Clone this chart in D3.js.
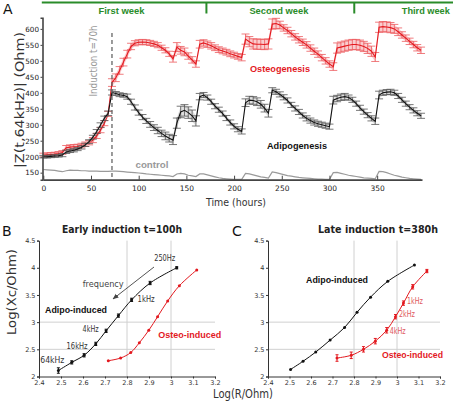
<!DOCTYPE html>
<html><head><meta charset="utf-8">
<script src="https://cdn.jsdelivr.net/npm/d3@7/dist/d3.min.js"></script>
<style>body{margin:0;background:#fff} svg{display:block;font-family:"DejaVu Sans",sans-serif}</style>
</head><body><svg id="c" width="453" height="402"></svg>
<script>
// ---------- Panel A data ----------
const hours = [0,4,8,12,16,20,24,28,32,36,40,44,48,52,56,60,64,68,72,76,80,84,88,92,96,100,104,108,112,116,120,124,128,132,136,140,144,148,152,156,160,164,168,172,176,180,184,188,192,196,200,204,208,212,216,220,224,228,232,236,240,244,248,252,256,260,264,268,272,276,280,284,288,292,296,300,304,308,312,316,320,324,328,332,336,340,344,348,352,356,360,364,368,372,376,380,384,388,392,396];
const osteo = [205,206,207,208,210,213,228,230,231,232,
  235,239,244,252,265,283,305,334,432,447,
  470,496,521,545,555,558,559,558,556,553,
  549,541,533,522,506,543,533,528,515,503,
  490,552,556,552,547,541,535,531,527,522,
  518,514,510,568,560,553,552,552,551,553,
  615,617,612,603,595,585,575,566,558,550,
  540,530,521,510,500,490,482,540,543,546,
  549,551,551,549,545,539,530,512,605,607,
  606,604,600,591,581,571,561,551,541,533];
const osteoErr = [6,6,6,6,6,6,7,7,7,7,
  7,7,7,8,8,8,8,8,12,12,
  12,12,12,10,8,8,8,8,8,8,
  8,8,8,8,10,14,12,12,10,10,
  10,12,10,10,10,9,9,9,9,9,
  9,9,10,16,16,16,16,16,16,16,
  16,16,12,10,10,10,10,10,10,10,
  10,10,10,10,10,10,12,16,16,16,
  16,16,16,16,16,16,16,14,16,16,
  16,16,14,12,10,10,10,10,10,10];
const adipo = [200,200,201,202,203,205,215,218,220,224,
  229,237,247,261,279,299,320,336,401,398,
  394,392,388,372,354,338,324,312,301,291,
  282,273,265,258,252,305,340,345,338,328,
  312,388,393,385,372,358,347,335,321,307,
  295,286,279,369,377,376,372,364,352,336,
  408,403,395,386,376,362,351,340,329,320,
  313,307,303,300,297,294,377,382,386,388,
  385,378,366,353,341,330,320,311,393,400,
  402,403,400,390,378,366,355,345,336,328];
const adipoErr = [4,4,4,4,4,5,5,5,5,5,
  5,5,6,6,6,7,7,7,8,6,
  6,6,8,8,8,8,8,8,9,9,
  10,10,12,12,14,16,18,18,18,18,
  16,10,8,8,8,8,8,8,8,8,
  8,8,8,12,12,12,12,12,12,12,
  8,8,8,8,8,8,8,8,8,8,
  8,8,8,8,8,8,12,10,10,10,
  8,8,8,8,8,8,8,10,12,8,
  8,8,8,8,8,8,8,8,8,8];
const control = [160,159,158,157,155,153,156,158,157,157,
  156,156,155,155,155,154,154,154,155,155,
  154,153,152,151,150,149,148,146,145,144,
  143,142,141,140,138,146,148,146,142,140,
  138,146,146,143,140,137,134,132,131,130,
  129,129,129,148,146,143,140,137,135,133,
  152,150,147,144,141,139,137,135,134,133,
  132,131,130,130,129,129,150,151,148,145,
  142,140,138,136,134,133,132,131,154,153,
  150,146,142,139,136,134,132,131,130,129];
const yTicksA = [150,200,250,300,350,400,450,500,550,600];
const xTicksA = [0,50,100,150,200,250,300,350];
const inductionHour = 72;
const weekBounds = [171, 326];
const weekLabels = ["First week","Second week","Third week"];
const weekLabelHours = [82, 247, 401];

// ---------- Panels B / C data ----------
const bAdipoR = [2.488,2.549,2.605,2.658,2.705,2.761,2.821,2.905,3.026];
const bAdipoX = [2.11,2.26,2.39,2.60,2.84,3.12,3.41,3.72,4.00];
const bAdipoErr = [0.05,0.03,0.03,0.03,0.03,0.03,0.03,0.03,0.02];
const bOsteoR = [2.715,2.771,2.817,2.856,2.899,2.939,2.985,3.038,3.117];
const bOsteoX = [2.29,2.34,2.44,2.62,2.85,3.10,3.39,3.67,3.96];
const cAdipoR = [2.505,2.563,2.622,2.689,2.756,2.814,2.877,2.957,3.081];
const cAdipoX = [2.13,2.28,2.45,2.67,2.90,3.18,3.46,3.75,4.05];
const cOsteoR = [2.721,2.787,2.844,2.899,2.952,2.993,3.030,3.073,3.139];
const cOsteoX = [2.34,2.39,2.50,2.65,2.85,3.10,3.35,3.65,3.94];
const cOsteoErr = [0.06,0.06,0.05,0.05,0.05,0.04,0.04,0.04,0.03];
const freqTicksX = [2.4,2.5,2.6,2.7,2.8,2.9,3,3.1,3.2];
const freqTicksY = [2,2.5,3,3.5,4,4.5];
const gridX = [2.8,3.0];
const gridY = [2.5,3.0];

const RED = "#e3191f", GREEN = "#2a8c2a";
const BOLDF = '"Liberation Sans", Arial, sans-serif';
const svg = d3.select('#c');

// ================= Panel A =================
const xA = d3.scaleLinear().domain([0,397]).range([43.3,422]);
const yA = d3.scaleLinear().domain([128,635]).range([179.7,17.7]);
const gA = svg.append('g');

function drawSeries(vals, errs, lineColor, bandColor, barColor, capW){
  const pts = hours.map((h,i)=>({h, v:vals[i], e:errs[i]}));
  gA.append('path').datum(pts)
    .attr('d', d3.area().x(d=>xA(d.h)).y0(d=>yA(d.v-d.e)).y1(d=>yA(d.v+d.e)))
    .attr('fill', bandColor).attr('opacity',0.55);
  const eb = gA.append('g').attr('stroke', barColor).attr('stroke-width',0.8);
  pts.forEach(d=>{
    const x = xA(d.h), y0=yA(d.v-d.e), y1=yA(d.v+d.e);
    eb.append('line').attr('x1',x).attr('x2',x).attr('y1',y0).attr('y2',y1);
    eb.append('line').attr('x1',x-capW/2).attr('x2',x+capW/2).attr('y1',y0).attr('y2',y0);
    eb.append('line').attr('x1',x-capW/2).attr('x2',x+capW/2).attr('y1',y1).attr('y2',y1);
  });
  gA.append('path').datum(pts)
    .attr('d', d3.line().x(d=>xA(d.h)).y(d=>yA(d.v)))
    .attr('fill','none').attr('stroke',lineColor).attr('stroke-width',1.1);
}
// control
(function(){
  const pts = hours.map((h,i)=>({h, v:control[i]}));
  gA.append('path').datum(pts)
    .attr('d', d3.line().x(d=>xA(d.h)).y(d=>yA(d.v)))
    .attr('fill','none').attr('stroke','#9a9a9a').attr('stroke-width',1.2);
})();
drawSeries(osteo, osteoErr, RED, "#f5a3a6", "#ec5a5e", 8);
drawSeries(adipo, adipoErr, "#111", "#c4c4c4", "#555", 8);

// induction line
gA.append('line').attr('x1',xA(inductionHour)).attr('x2',xA(inductionHour))
  .attr('y1',33).attr('y2',yA(128)).attr('stroke','#666').attr('stroke-width',1.3)
  .attr('stroke-dasharray','4,3');
gA.append('text').attr('transform',`translate(${xA(inductionHour)-15},61) rotate(-90)`)
  .attr('text-anchor','middle').attr('font-size',10).attr('fill','#999')
  .attr('textLength',71).attr('lengthAdjust','spacingAndGlyphs').text('Induction t=70h');

// axes A
const axL = gA.append('g').attr('transform',`translate(${xA(0)-0.8},0)`)
  .call(d3.axisLeft(yA).tickValues(yTicksA).tickSize(2).tickPadding(1.5));
axL.select('.domain').attr('stroke','#444').attr('stroke-width',1.6);
axL.selectAll('.tick line').attr('stroke','#444');
axL.selectAll('.tick text').attr('font-size',7.2).attr('fill','#222').attr('font-family','DejaVu Sans');
const axB = gA.append('g').attr('transform',`translate(0,${yA(128)})`)
  .call(d3.axisBottom(xA).tickValues(xTicksA).tickSize(-4).tickPadding(5).tickSizeOuter(0));
axB.select('.domain').attr('stroke','#444').attr('stroke-width',1.8);
axB.selectAll('.tick line').attr('stroke','#444');
axB.selectAll('.tick text').attr('font-size',7.5).attr('fill','#222').attr('font-family','DejaVu Sans').attr('dy','0.9em');

gA.append('text').attr('x',236).attr('y',205.5).attr('text-anchor','middle')
  .attr('font-size',10.5).attr('fill','#333').attr('textLength',60).attr('lengthAdjust','spacingAndGlyphs').text('Time (hours)');
gA.append('text').attr('transform','translate(24,100) rotate(-90)').attr('text-anchor','middle')
  .attr('font-size',12.5).attr('fill','#333').attr('textLength',136).attr('lengthAdjust','spacingAndGlyphs').text('|Z(t,64kHz)| (Ohm)');

// series labels
function boldLbl(g,x,y,t,fill,len,anchor){
  return g.append('text').attr('x',x).attr('y',y).attr('text-anchor',anchor||'start').attr('font-weight','bold')
    .attr('font-family',BOLDF).attr('font-size',9.2).attr('fill',fill)
    .attr('textLength',len).attr('lengthAdjust','spacingAndGlyphs').text(t);
}
boldLbl(gA,280,72,'Osteogenesis',RED,60,'middle');
boldLbl(gA,297,148.5,'Adipogenesis','#111',60,'middle');
boldLbl(gA,152,168,'control','#999',33,'middle');

// week bar
gA.append('line').attr('x1',xA(0)-1.5).attr('x2',453).attr('y1',2.5).attr('y2',2.5).attr('stroke',GREEN).attr('stroke-width',2.2);
weekBounds.forEach(h=>{
  gA.append('line').attr('x1',xA(h)).attr('x2',xA(h)).attr('y1',2).attr('y2',13.5).attr('stroke',GREEN).attr('stroke-width',2);
});
const wLens=[46,59,48];
weekLabels.forEach((t,i)=>{
  const last = i===weekLabels.length-1;
  boldLbl(gA, last ? xA(weekLabelHours[i])+wLens[i]/2 : xA(weekLabelHours[i]), 13.5, t, GREEN, wLens[i], last?'end':'middle');
});
svg.append('text').attr('x',3).attr('y',13.5).attr('font-size',14).attr('fill','#111').text('A');

// ================= Panels B & C =================
function panel(x0,x1,title,titleX,letter,letterX){
  const x = d3.scaleLinear().domain([2.4,3.2]).range([x0,x1]);
  const y = d3.scaleLinear().domain([2,4.5]).range([376.5,240.6]);
  const g = svg.append('g');
  gridX.forEach(v=>g.append('line').attr('x1',x(v)).attr('x2',x(v)).attr('y1',y(4.5)).attr('y2',y(2)).attr('stroke','#d0d0d0').attr('stroke-width',1));
  gridY.forEach(v=>g.append('line').attr('x1',x(2.4)).attr('x2',x(3.2)).attr('y1',y(v)).attr('y2',y(v)).attr('stroke','#d0d0d0').attr('stroke-width',1));
  const ay = g.append('g').attr('transform',`translate(${x(2.4)},0)`).call(d3.axisLeft(y).tickValues(freqTicksY).tickFormat(d3.format('')).tickSize(2).tickPadding(1.5));
  const ax = g.append('g').attr('transform',`translate(0,${y(2)})`).call(d3.axisBottom(x).tickValues(freqTicksX).tickFormat(d3.format('')).tickSize(2).tickPadding(1.5));
  [ay,ax].forEach(a=>{
    a.select('.domain').attr('stroke','#333').attr('stroke-width',1);
    a.selectAll('.tick line').attr('stroke','#333');
    a.selectAll('.tick text').attr('font-size',6.5).attr('fill','#333').attr('font-family','DejaVu Sans');
  });
  g.append('text').attr('x',titleX).attr('y',233).attr('text-anchor','middle').attr('font-weight','bold')
    .attr('font-size',10).attr('fill','#222').attr('textLength',120).attr('lengthAdjust','spacingAndGlyphs').text(title);
  svg.append('text').attr('x',letterX).attr('y',235.5).attr('font-size',14).attr('fill','#111').text(letter);
  return {x,y,g};
}
function curve(P, R, X, E, color){
  const pts = R.map((r,i)=>({r, v:X[i], e:E?E[i]:0}));
  P.g.append('path').datum(pts).attr('d', d3.line().curve(d3.curveCatmullRom.alpha(0.5)).x(d=>P.x(d.r)).y(d=>P.y(d.v)))
    .attr('fill','none').attr('stroke',color).attr('stroke-width',1);
  pts.forEach(d=>{
    if(d.e>0){
      const xx=P.x(d.r), a=P.y(d.v-d.e), b=P.y(d.v+d.e);
      P.g.append('line').attr('x1',xx).attr('x2',xx).attr('y1',a).attr('y2',b).attr('stroke',color).attr('stroke-width',1);
      P.g.append('line').attr('x1',xx-1.5).attr('x2',xx+1.5).attr('y1',a).attr('y2',a).attr('stroke',color).attr('stroke-width',1);
      P.g.append('line').attr('x1',xx-1.5).attr('x2',xx+1.5).attr('y1',b).attr('y2',b).attr('stroke',color).attr('stroke-width',1);
    }
    P.g.append('circle').attr('cx',P.x(d.r)).attr('cy',P.y(d.v)).attr('r',1.5).attr('fill',color);
  });
}
const PB = panel(39,215,'Early induction t=100h',122,'B',2);
curve(PB, bAdipoR, bAdipoX, bAdipoErr, '#111');
curve(PB, bOsteoR, bOsteoX, null, RED);
function lbl(g,x,y,t,opt){
  const s = g.append('text').attr('x',x).attr('y',y).attr('font-size',opt.size||8).attr('fill',opt.fill||'#333').text(t);
  if(opt.len) s.attr('textLength',opt.len).attr('lengthAdjust','spacingAndGlyphs');
  return s;
}
// B labels
lbl(PB.g, PB.x(bAdipoR[0])-18, 363, '64kHz', {size:9, len:24});
lbl(PB.g, PB.x(bAdipoR[2])-17.5, 349, '16kHz', {size:8, len:21});
lbl(PB.g, PB.x(bAdipoR[4])-23.5, 332, '4kHz', {size:8, len:16});
lbl(PB.g, PB.x(bAdipoR[6])+6, 302, '1kHz', {size:8, len:17});
lbl(PB.g, PB.x(bAdipoR[8])-22.5, 261, '250Hz', {size:8, len:21});
lbl(PB.g, 82.7, 286.5, 'frequency', {size:8.5, len:41, fill:'#444'});
boldLbl(PB.g, 45, 312.5, 'Adipo-induced', '#111', 62);
boldLbl(PB.g, 158.3, 337.5, 'Osteo-induced', RED, 63);
svg.append('defs').append('marker').attr('id','ah').attr('viewBox','0 0 10 10').attr('refX',9).attr('refY',5)
  .attr('markerWidth',6).attr('markerHeight',6).attr('orient','auto')
  .append('path').attr('d','M0,1 L10,5 L0,9 z').attr('fill','#444');
PB.g.append('line').attr('x1',154).attr('y1',267).attr('x2',113).attr('y2',299).attr('stroke','#555').attr('stroke-width',1).attr('marker-end','url(#ah)');

const PC = panel(268,440,'Late induction t=380h',378,'C',232);
curve(PC, cAdipoR, cAdipoX, null, '#111');
curve(PC, cOsteoR, cOsteoX, cOsteoErr, RED);
const LR = "#e05a5e";
lbl(PC.g, PC.x(cOsteoR[6])+3.5, 303.5, '1kHz', {size:8, fill:LR, len:16});
lbl(PC.g, PC.x(cOsteoR[5])+3.5, 317, '2kHz', {size:8, fill:LR, len:16});
lbl(PC.g, PC.x(cOsteoR[4])+3, 333.5, '4kHz', {size:8, fill:LR, len:16});
boldLbl(PC.g, 306, 282.5, 'Adipo-induced', '#111', 62);
boldLbl(PC.g, 443, 358, 'Osteo-induced', RED, 61, 'end');

svg.append('text').attr('x',243).attr('y',397.5).attr('text-anchor','middle').attr('font-size',12)
  .attr('fill','#333').attr('textLength',60).attr('lengthAdjust','spacingAndGlyphs').text('Log(R/Ohm)');
svg.append('text').attr('transform','translate(16,292) rotate(-90)').attr('text-anchor','middle').attr('font-size',13)
  .attr('fill','#333').attr('textLength',86).attr('lengthAdjust','spacingAndGlyphs').text('Log(Xc/Ohm)');
</script></body></html>
